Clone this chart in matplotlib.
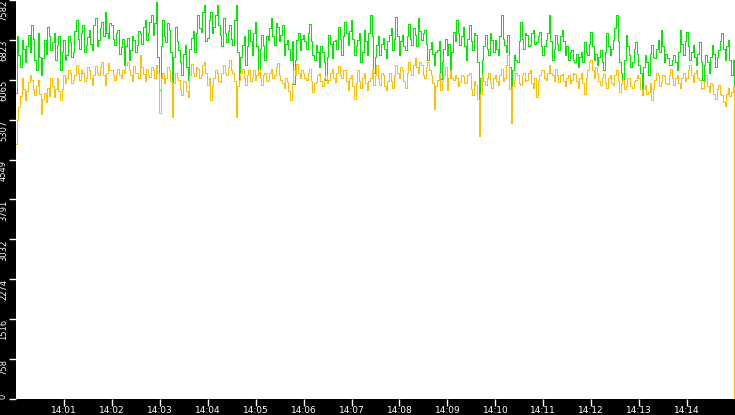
import numpy as np
import matplotlib
matplotlib.use('Agg')
import matplotlib.pyplot as plt

# one sample every 2 s from 14:00:00 to 14:15:00 (one row = one minute)
inicio = np.datetime64('2024-01-01T14:00:00')
paso = np.timedelta64(2, 's')

verde = [
    5820, 6900, 6532, 6300, 6819, 6650, 6400, 6700, 6914, 6600, 7105, 6850, 6437, 6250, 6950, 6500, 6150, 6480, 6819, 6550, 7060, 6900, 6628, 6780, 6950, 6450, 6723, 6900, 6246, 6600,
    6819, 6450, 6532, 6900, 6780, 6500, 6590, 7000, 7201, 6850, 6660, 6950, 7105, 6600, 6723, 6880, 7010, 6750, 6628, 7100, 7240, 6700, 6819, 7050, 7160, 6900, 7350, 6950, 6857, 7150,
    7105, 6850, 6723, 6950, 7010, 6550, 6680, 6850, 6341, 6700, 6857, 6450, 6628, 6900, 6819, 6600, 6723, 7000, 6950, 6750, 7060, 7200, 6819, 6950, 7160, 7300, 6914, 7150, 7545, 6500,
    5864, 6700, 7201, 6900, 6780, 7150, 7010, 6600, 5883, 6500, 7060, 6800, 6628, 6400, 6150, 6550, 6723, 6300, 6055, 6650, 6857, 7000, 6590, 6950, 7296, 7050, 6970, 7350, 7487, 6800,
    6857, 7200, 7350, 6950, 7060, 7300, 7487, 7100, 6914, 6700, 7240, 6950, 6780, 7000, 7105, 6850, 6723, 7200, 7487, 6600, 6055, 6500, 6723, 6900, 6341, 6700, 7010, 6800, 6532, 6950,
    7160, 6700, 6200, 6650, 6914, 6700, 6437, 6900, 6819, 7050, 7240, 6900, 6723, 7150, 7060, 6800, 6914, 7100, 6532, 6750, 6819, 6650, 6437, 6800, 5980, 6450, 6819, 6950, 6628, 6850,
    6914, 6800, 6660, 6950, 7125, 6800, 6532, 6450, 6723, 6600, 6300, 6700, 6590, 6400, 6055, 6500, 6914, 6750, 6475, 6800, 6819, 6650, 7070, 6850, 6532, 6900, 7160, 6950, 6723, 7000,
    7201, 6850, 6532, 6700, 6819, 6950, 6400, 6600, 7010, 6800, 6532, 6950, 7296, 6900, 6200, 6500, 6723, 6900, 6532, 6750, 6857, 6650, 6475, 6800, 6914, 7050, 6628, 6850, 7260, 6900,
    6532, 6800, 6914, 6700, 6628, 6900, 7125, 6850, 6723, 7050, 6914, 6700, 7240, 7000, 6819, 6950, 7010, 6750, 6437, 6650, 6780, 6550, 6341, 6600, 6628, 6800, 6090, 6400, 6660, 6850,
    6532, 6750, 6246, 6600, 6970, 6800, 7201, 6950, 6723, 6900, 7060, 6700, 6437, 6850, 7105, 6800, 6628, 6950, 6914, 6400, 5577, 6100, 6437, 6700, 6914, 6650, 6532, 6950, 6819, 6600,
    6819, 6650, 6532, 6900, 7296, 6850, 6723, 6600, 6914, 6300, 5673, 6250, 6532, 6450, 6400, 6800, 7160, 6850, 6660, 6950, 6914, 6700, 6723, 6950, 7010, 6750, 6780, 6900, 6970, 6700,
    6532, 6700, 6819, 6950, 7296, 6800, 6437, 6650, 6914, 6750, 6628, 6900, 7010, 6800, 6532, 6700, 6437, 6600, 6628, 6450, 6400, 6550, 6300, 6500, 6590, 6400, 6780, 6600, 6532, 6750,
    6970, 6700, 6437, 6550, 6341, 6500, 6628, 6400, 6246, 6600, 6950, 6700, 6532, 6650, 6819, 7050, 7296, 6800, 6400, 6200, 6055, 6450, 6914, 6700, 6532, 6300, 6400, 6650, 6780, 6550,
    6341, 6200, 5768, 6300, 6532, 6400, 6150, 6550, 6723, 6500, 6475, 6650, 6819, 6600, 7010, 6700, 6400, 6550, 6475, 6350, 6341, 6450, 6532, 6400, 6246, 6600, 7010, 6750, 6532, 6800,
    6970, 6700, 6437, 6600, 6723, 6500, 6341, 6550, 6780, 6400, 6055, 6350, 6532, 6400, 6200, 6500, 6723, 6550, 6300, 6500, 6628, 6800, 6950, 6650, 6437, 6700, 6819, 6450, 6150, 6450,
    2950,
]

naranja = [
    4850, 5300, 5540, 5750, 6100, 5900, 5673, 5850, 6020, 6150, 6055, 5900, 5768, 5950, 6055, 5800, 5425, 5700, 5820, 5650, 5910, 5750, 6100, 5950, 5730, 5900, 6100, 5850, 5673, 5900,
    6150, 6000, 6100, 6250, 6190, 6000, 6055, 6150, 6341, 6200, 6055, 6250, 6200, 6050, 6100, 6300, 6246, 6100, 5960, 6150, 6320, 6200, 6150, 6300, 6400, 6150, 5960, 6200, 6380, 6250,
    6246, 6150, 6055, 6200, 6270, 6150, 6100, 6250, 6200, 6350, 6400, 6250, 6150, 6050, 6320, 6200, 6200, 6100, 6532, 6300, 6170, 6050, 6270, 6150, 6110, 6300, 6246, 6100, 6341, 6200,
    5440, 6100, 6200, 6000, 6100, 6300, 6246, 6050, 5350, 6000, 6200, 6100, 6055, 5900, 5768, 6050, 6020, 5850, 5730, 6150, 6360, 6200, 6130, 6300, 6270, 6100, 6150, 6350, 6400, 6200,
    5960, 6100, 5673, 5950, 6100, 6250, 6200, 6050, 6020, 6200, 6341, 6200, 6150, 6300, 6437, 6250, 6200, 6050, 5350, 5950, 6055, 6200, 6270, 6100, 5960, 6150, 6246, 6050, 6100, 6250,
    6055, 6150, 6246, 6100, 5960, 6150, 6200, 6050, 6055, 6200, 6270, 6100, 6150, 6300, 6380, 6150, 6055, 6000, 5910, 6100, 6020, 5850, 5673, 6000, 6246, 6150, 6360, 6200, 6100, 6250,
    6200, 6100, 6055, 6200, 6270, 6050, 5825, 6000, 6020, 6150, 6200, 6050, 5940, 6100, 6150, 6000, 6055, 6200, 6270, 6100, 6020, 6200, 6320, 6150, 6100, 6250, 6246, 6050, 5864, 6100,
    6150, 5950, 5710, 6000, 6246, 6050, 5910, 6100, 6200, 6000, 5864, 6050, 6100, 6250, 5960, 6150, 6341, 6100, 5960, 6200, 6150, 5950, 5864, 6050, 6200, 6050, 5910, 6150, 6341, 6200,
    6100, 6300, 6246, 6050, 5910, 6200, 6400, 6250, 6150, 6350, 6475, 6300, 6200, 6400, 6341, 6150, 6100, 6300, 6400, 6250, 6150, 6000, 5520, 5950, 6055, 6200, 5864, 6050, 6150, 6300,
    5864, 6100, 6246, 6100, 6055, 6150, 6100, 5950, 6020, 6150, 6130, 6000, 6020, 6150, 6200, 5900, 5768, 6050, 5960, 5700, 5004, 5800, 6150, 6050, 5960, 6100, 6190, 6000, 5910, 6100,
    6150, 6050, 5960, 6150, 6270, 6050, 6100, 6350, 6532, 5900, 5250, 5950, 6055, 6200, 6150, 6000, 5960, 6150, 6200, 6050, 6055, 6200, 6246, 6000, 5910, 6100, 5730, 6050, 6150, 6250,
    6246, 6100, 6055, 6200, 6341, 6200, 6150, 6050, 6270, 6150, 6020, 6150, 6170, 6050, 5940, 6100, 6150, 6000, 6055, 6200, 6170, 6050, 5910, 6100, 6200, 6000, 5790, 6100, 6246, 6400,
    6437, 6250, 6100, 6300, 6200, 6050, 5960, 6100, 6170, 6000, 5910, 6100, 6150, 6000, 5960, 6150, 6246, 6050, 5825, 6000, 6055, 5900, 5940, 6100, 6100, 5950, 5910, 6050, 6055, 6150,
    6100, 5900, 5768, 5900, 5960, 5800, 5825, 6000, 5673, 5900, 6055, 6200, 6150, 5950, 6020, 6150, 6130, 6000, 5990, 6150, 6270, 6100, 5960, 6100, 6150, 6000, 5910, 6100, 6200, 6050,
    6100, 6250, 6341, 6150, 6020, 6200, 6246, 6100, 6055, 5900, 5910, 6050, 6150, 5950, 5825, 6000, 5960, 5800, 5710, 5900, 5960, 5800, 5768, 5650, 5577, 5800, 5910, 5750, 5825, 5950,
    0,
]

ticks_y = [0, 758, 1516, 2274, 3032, 3791, 4549, 5307, 6065, 6823, 7582]
minutos = ['14:%02d' % m for m in range(1, 15)]

tiempos = inicio + paso * np.arange(len(verde))

fig = plt.figure(figsize=(7.35, 4.15), dpi=100, facecolor='black')
ax = fig.add_axes([16 / 735, 16 / 415, 719 / 735, 399 / 415])
ax.set_facecolor('white')

ax.plot(tiempos, verde, color='#00e800', lw=0.6, drawstyle='steps-mid', antialiased=False)
ax.plot(tiempos, naranja, color='#ffc000', lw=0.6, drawstyle='steps-mid', antialiased=False)

ax.set_xlim(inicio, inicio + np.timedelta64(15, 'm'))
ax.set_ylim(0, 7582)

xt = [inicio + np.timedelta64(m, 'm') for m in range(1, 15)]
ax.set_xticks(xt)
ax.set_xticklabels(minutos)
ax.set_yticks(ticks_y)
ax.set_yticklabels([str(v) for v in ticks_y], rotation=90, va='top', ha='center')
ax.get_yticklabels()[0].set_va('bottom')

ax.tick_params(axis='x', colors='white', length=5, width=1, pad=0, labelsize=6.5)
ax.tick_params(axis='y', colors='white', length=5, width=1, pad=4, labelsize=6)

for s in ax.spines.values():
    s.set_visible(False)

fig.savefig('out.png', dpi=100, facecolor='black')
